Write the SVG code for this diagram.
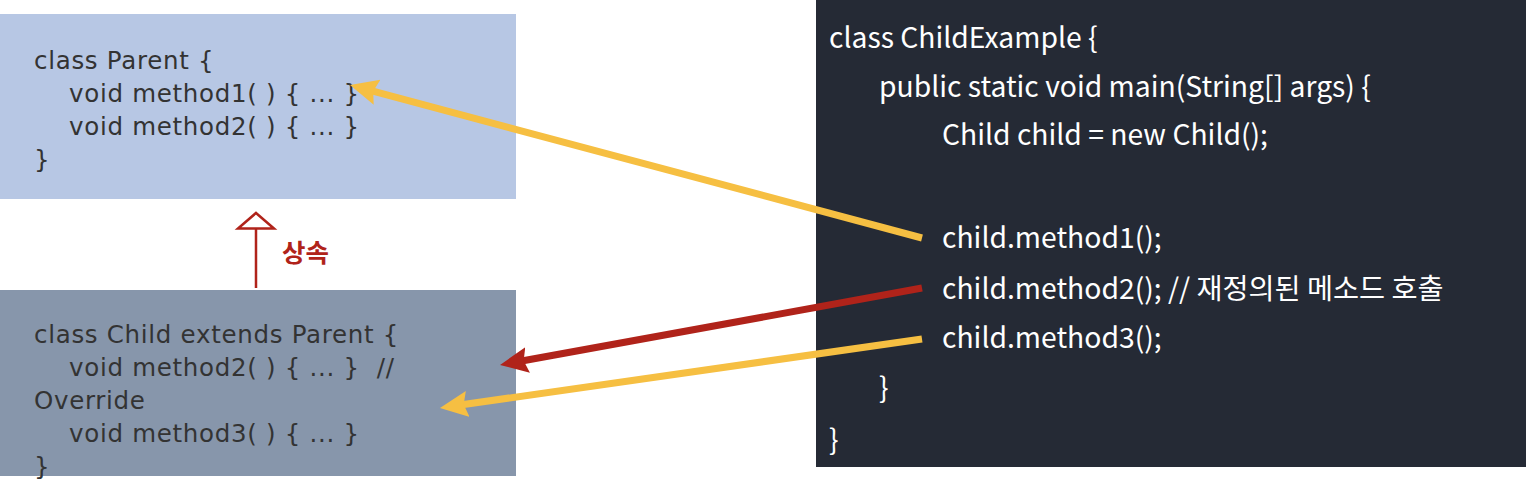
<svg xmlns="http://www.w3.org/2000/svg" width="1526" height="502" viewBox="0 0 1526 502">
<style>
  .lt { font-family: "DejaVu Sans", "Noto Sans CJK KR", sans-serif; font-size: 24.5px; letter-spacing: 0.7px; fill: #333333; white-space: pre; }
  .rt { font-family: "Noto Sans CJK KR", "Noto Sans", sans-serif; font-size: 28.3px; fill: #ffffff; white-space: pre; }
  .lbl { font-family: "Noto Sans CJK KR", "Noto Sans", sans-serif; font-size: 25.5px; font-weight: bold; fill: #b0231a; }
  .yl { stroke: #f6bf42; stroke-width: 7; fill: none; }
  .rl { stroke: #b0231a; stroke-width: 7; fill: none; }
</style>
<defs>
  <marker id="hy" markerUnits="userSpaceOnUse" markerWidth="30" markerHeight="28" refX="13" refY="13" orient="auto">
    <path d="M0,0 L28,13 L0,26 L4,13 z" fill="#f6bf42"/>
  </marker>
  <marker id="hr" markerUnits="userSpaceOnUse" markerWidth="30" markerHeight="28" refX="13" refY="13" orient="auto">
    <path d="M0,0 L28,13 L0,26 L4,13 z" fill="#b0231a"/>
  </marker>
</defs>
<rect width="1526" height="502" fill="#ffffff"/>

<g id="parent">
  <rect x="0" y="14" width="516" height="185" fill="#b7c7e4"/>
  <text class="lt" x="34" y="69">class Parent {</text>
  <text class="lt" x="69" y="102">void method1( ) { ... }</text>
  <text class="lt" x="69" y="135">void method2( ) { ... }</text>
  <text class="lt" x="34" y="168">}</text>
</g>

<g id="child">
  <rect x="0" y="290" width="516" height="186" fill="#8796ab"/>
  <text class="lt" x="34" y="343">class Child extends Parent {</text>
  <text class="lt" x="69" y="376">void method2( ) { ... }  //</text>
  <text class="lt" x="34" y="409">Override</text>
  <text class="lt" x="69" y="442">void method3( ) { ... }</text>
  <text class="lt" x="34" y="475">}</text>
</g>

<g id="childexample">
  <rect x="816" y="0" width="710" height="467" fill="#252a35"/>
  <text class="rt" x="829" y="48">class ChildExample {</text>
  <text class="rt" x="879" y="97">public static void main(String[] args) {</text>
  <text class="rt" x="942" y="145">Child child = new Child();</text>
  <text class="rt" x="942" y="248">child.method1();</text>
  <text class="rt" x="942" y="299">child.method2(); // 재정의된 메소드 호출</text>
  <text class="rt" x="942" y="348">child.method3();</text>
  <text class="rt" x="879" y="398">}</text>
  <text class="rt" x="829" y="450">}</text>
</g>

<g id="connectors">
  <line x1="256" y1="288" x2="256" y2="229" stroke="#b0231a" stroke-width="2.5"/>
  <polygon points="256,213 274,228.5 238,228.5" fill="#ffffff" stroke="#b0231a" stroke-width="2.5"/>
  <text class="lbl" x="282" y="262">상속</text>
  <line class="yl" x1="922" y1="238" x2="364.5" y2="88.9" marker-end="url(#hy)"/>
  <line class="rl" x1="922" y1="288" x2="514.8" y2="362.3" marker-end="url(#hr)"/>
  <line class="yl" x1="922" y1="339" x2="454.8" y2="405.8" marker-end="url(#hy)"/>
</g>
</svg>
